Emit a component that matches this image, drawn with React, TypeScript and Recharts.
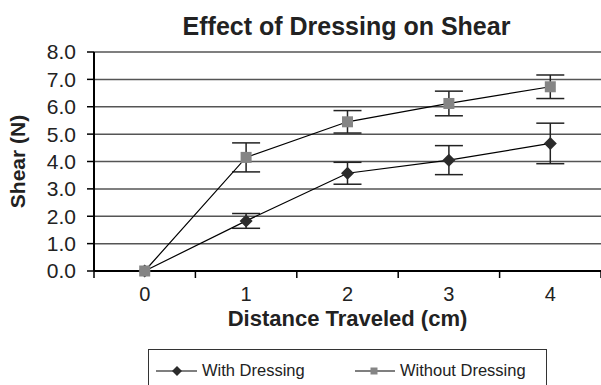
import React from "react"
import { LineChart, Line, XAxis, YAxis, CartesianGrid, ErrorBar } from "recharts"

const distances = [0, 1, 2, 3, 4]
const withDressing = [0, 1.83, 3.57, 4.05, 4.66]
const withDressingErr = [0, 0.27, 0.4, 0.53, 0.74]
const withoutDressing = [0, 4.15, 5.45, 6.12, 6.73]
const withoutDressingErr = [0, 0.53, 0.41, 0.45, 0.43]
const yTicks = [0, 1, 2, 3, 4, 5, 6, 7, 8]

const data = distances.map((d, i) => ({
  distance: d,
  withD: withDressing[i],
  withErr: withDressingErr[i],
  withoutD: withoutDressing[i],
  withoutErr: withoutDressingErr[i],
}))

const W = 601
const H = 385
const margin = { top: 52, right: 0, bottom: 54, left: 0 }
const yAxisWidth = 94
const halfBand = (W - yAxisWidth - margin.right) / distances.length / 2

const font = "'Liberation Sans', Arial, sans-serif"

function Diamond(props: any) {
  const { cx, cy, size = 6.5 } = props
  if (cx == null || cy == null) return null
  return <path d={`M${cx},${cy - size}L${cx + size},${cy}L${cx},${cy + size}L${cx - size},${cy}Z`} fill="#2b2b2b" />
}

function Square(props: any) {
  const { cx, cy, size = 5.5 } = props
  if (cx == null || cy == null) return null
  return <rect x={cx - size} y={cy - size} width={size * 2} height={size * 2} fill="#858585" />
}

function XTick(props: any) {
  const { x, y, payload, index } = props
  return (
    <g>
      {index === 0 && <line x1={x - halfBand} x2={x - halfBand} y1={y - 8} y2={y - 1} stroke="#000" strokeWidth={1.5} />}
      <line x1={x + halfBand} x2={x + halfBand} y1={y - 8} y2={y - 1} stroke="#000" strokeWidth={1.5} />
      <text x={x} y={y + 22} textAnchor="middle" fontSize={20} fill="#222" fontFamily={font}>
        {payload.value}
      </text>
    </g>
  )
}

function LegendBox() {
  return (
    <div
      style={{
        position: "absolute",
        left: 148,
        top: 349,
        width: 399,
        height: 40,
        border: "1px solid #333",
        boxSizing: "border-box",
      }}
    >
      <svg width={399} height={40} style={{ position: "absolute", left: -1, top: -1 }}>
        <line x1={8} x2={49} y1={22} y2={22} stroke="#000" strokeWidth={1.2} />
        <Diamond cx={29} cy={22} size={5} />
        <text x={54} y={27} fontSize={16.5} fill="#222" fontFamily={font}>With Dressing</text>
        <line x1={207} x2={247} y1={22} y2={22} stroke="#000" strokeWidth={1.2} />
        <Square cx={226} cy={22} size={3.5} />
        <text x={252} y={27} fontSize={16.5} fill="#222" fontFamily={font}>Without Dressing</text>
      </svg>
    </div>
  )
}

export default function App() {
  return (
    <div style={{ position: "absolute", left: 0, top: 0, width: W, height: H, background: "#fff", overflow: "hidden" }}>
      <div style={{ position: "absolute", left: 0, top: 12, width: W, paddingLeft: 92, boxSizing: "border-box", textAlign: "center", fontFamily: font, fontWeight: "bold", fontSize: 25, color: "#222" }}>
        Effect of Dressing on Shear
      </div>
      <LineChart width={W} height={H} data={data} margin={margin}>
        <CartesianGrid vertical={false} stroke="#555" strokeWidth={1.5} />
        <XAxis
          dataKey="distance"
          type="category"
          padding={{ left: halfBand, right: halfBand }}
          axisLine={{ stroke: "#000", strokeWidth: 2 }}
          tickLine={false}
          tick={<XTick />}
          height={60}
          interval={0}
          label={{ value: "Distance Traveled (cm)", position: "insideBottom", offset: 5, style: { fontFamily: font, fontWeight: "bold", fontSize: 22, fill: "#222" } }}
        />
        <YAxis
          width={yAxisWidth}
          domain={[0, 8]}
          ticks={yTicks}
          interval={0}
          tickFormatter={(v: number) => v.toFixed(1)}
          axisLine={{ stroke: "#000", strokeWidth: 2 }}
          tickLine={{ stroke: "#000", strokeWidth: 1.5 }}
          tickSize={7}
          tickMargin={11}
          tick={{ fontFamily: font, fontSize: 21, fill: "#222" }}
          label={{ value: "Shear (N)", angle: -90, position: "insideLeft", offset: 18, style: { textAnchor: "middle", fontFamily: font, fontWeight: "bold", fontSize: 21, fill: "#222" } }}
        />
        <Line dataKey="withD" stroke="#000" strokeWidth={1.2} dot={<Diamond />} activeDot={false} isAnimationActive={false}>
          <ErrorBar dataKey="withErr" width={14} stroke="#222" strokeWidth={1.5} direction="y" />
        </Line>
        <Line dataKey="withoutD" stroke="#000" strokeWidth={1.2} dot={<Square />} activeDot={false} isAnimationActive={false}>
          <ErrorBar dataKey="withoutErr" width={14} stroke="#222" strokeWidth={1.5} direction="y" />
        </Line>
      </LineChart>
      <LegendBox />
    </div>
  )
}
